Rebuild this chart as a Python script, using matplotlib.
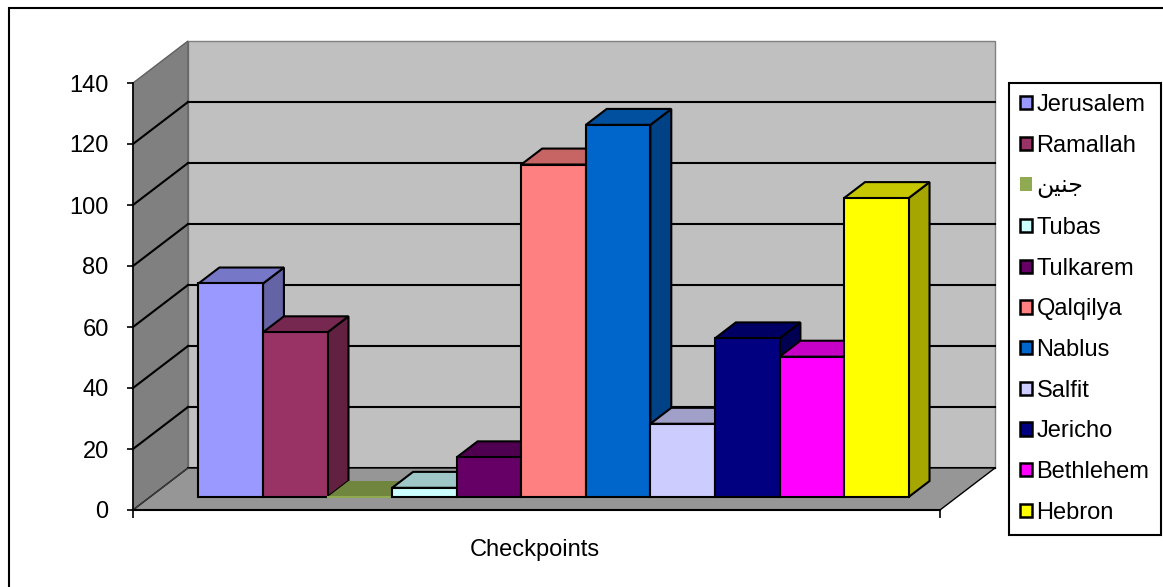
import numpy as np
import matplotlib
matplotlib.use('Agg')
import matplotlib.pyplot as plt
from matplotlib.patches import Polygon, Rectangle, Patch

plt.rcParams['font.family'] = ['Liberation Sans', 'DejaVu Sans']

# data
cities = ['Jerusalem', 'Ramallah', '\uFEE6\uFEF4\uFEE8\uFE9F', 'Tubas', 'Tulkarem', 'Qalqilya',
          'Nablus', 'Salfit', 'Jericho', 'Bethlehem', 'Hebron']
checkpoints = [70, 54, 0, 3, 13, 109, 122, 24, 52, 46, 98]
colors = ['#9999FF', '#993366', '#8FAA50', '#CCFFFF', '#660066', '#FF8080',
          '#0066CC', '#CCCCFF', '#000080', '#FF00FF', '#FFFF00']
yticks = [0, 20, 40, 60, 80, 100, 120, 140]

W, H = 1163, 587
fig = plt.figure(figsize=(W / 100, H / 100), dpi=100)
ax = fig.add_axes([133 / W, 1 - 510 / H, (940 - 133) / W, (510 - 83) / H])

nx = 12.5
ymax = 140
ax.set_xlim(0, nx)
ax.set_ylim(0, ymax)
ax.set_facecolor('none')

# depth of the 3d box in data units
DX = 55 / ((940 - 133) / nx)
DY = 42 / ((510 - 83) / ymax)
f1, f2 = 0.31, 0.69


def shade(c, k):
    rgb = np.array(matplotlib.colors.to_rgb(c)) * k
    return tuple(rgb)


# walls and floor
ax.add_patch(Polygon([(DX, DY), (nx + DX, DY), (nx + DX, ymax + DY), (DX, ymax + DY)],
                     closed=True, fc='#C0C0C0', ec='#808080', lw=1, clip_on=False, zorder=0))
ax.add_patch(Polygon([(0, 0), (DX, DY), (DX, ymax + DY), (0, ymax)],
                     closed=True, fc='#808080', ec='#606060', lw=1, clip_on=False, zorder=0))
ax.add_patch(Polygon([(0, 0), (nx, 0), (nx + DX, DY), (DX, DY)],
                     closed=True, fc='#969696', ec='black', lw=1, clip_on=False, zorder=1))
ax.plot([0, DX], [0, DY], color='#404040', lw=0.8, clip_on=False, zorder=1.1)

for v in yticks[:-1]:
    ax.plot([DX, nx + DX], [v + DY, v + DY], color='black', lw=1.5, clip_on=False, zorder=0.5)
    if v > 0:
        ax.plot([0, DX], [v, v + DY], color='black', lw=1.5, clip_on=False, zorder=0.5)

# bars
d = f2 - f1
for i, (v, c) in enumerate(zip(checkpoints, colors)):
    x0 = 0.75 + i + f1 * DX
    y0 = f1 * DY
    z = 2 + i * 0.01
    ec = 'black' if v > 0 else 'none'
    side = [(x0 + 1, y0), (x0 + 1 + d * DX, y0 + d * DY),
            (x0 + 1 + d * DX, y0 + v + d * DY), (x0 + 1, y0 + v)]
    top = [(x0, y0 + v), (x0 + 1, y0 + v), (x0 + 1 + d * DX, y0 + v + d * DY),
           (x0 + d * DX, y0 + v + d * DY)]
    if v > 0:
        ax.add_patch(Polygon(side, closed=True, fc=shade(c, 0.65), ec=ec, lw=1.5,
                             clip_on=False, zorder=z))
    ax.add_patch(Polygon(top, closed=True, fc=shade(c, 0.78), ec=ec, lw=1.5,
                         clip_on=False, zorder=z))
    if v > 0:
        ax.add_patch(Rectangle((x0, y0), 1, v, fc=c, ec=ec, lw=1.5, clip_on=False, zorder=z))
    else:
        ax.plot([x0, x0 + 1], [y0, y0], color=c, lw=1.5, clip_on=False, zorder=z)

# axes
for s in ['top', 'right']:
    ax.spines[s].set_visible(False)
ax.spines['left'].set_linewidth(1.2)
ax.spines['bottom'].set_linewidth(1.5)
ax.set_yticks(yticks)
ax.set_xticks([0, nx])
ax.set_xticklabels([])
ax.tick_params(axis='y', direction='out', length=4.5, width=1.2, pad=13, labelsize=17)
ax.tick_params(axis='x', direction='out', length=6, width=1.2)

fig.text(535 / W, 1 - 550 / H, 'Checkpoints', ha='center', va='center', fontsize=17)

handles = []
for name, c, v in zip(cities, colors, checkpoints):
    handles.append(Patch(fc=c, ec='black' if v > 0 else 'none', lw=1.8, label=name))
leg = ax.legend(handles=handles, loc='upper left', bbox_to_anchor=(1009 / W, 1 - 83 / H),
                bbox_transform=fig.transFigure, borderaxespad=0, fontsize=17,
                handlelength=0.5, handleheight=0.5, handletextpad=0.2,
                labelspacing=0.79, borderpad=0.47, fancybox=False, framealpha=1)
leg.get_frame().set_edgecolor('black')
leg.get_frame().set_linewidth(1.5)

# outer chart border
fig.patches.append(Rectangle((9 / W, -0.1), 1.2, 1.1 - 8 / H, transform=fig.transFigure,
                             fill=False, ec='black', lw=1.5))

fig.savefig('out.png', dpi=100)
